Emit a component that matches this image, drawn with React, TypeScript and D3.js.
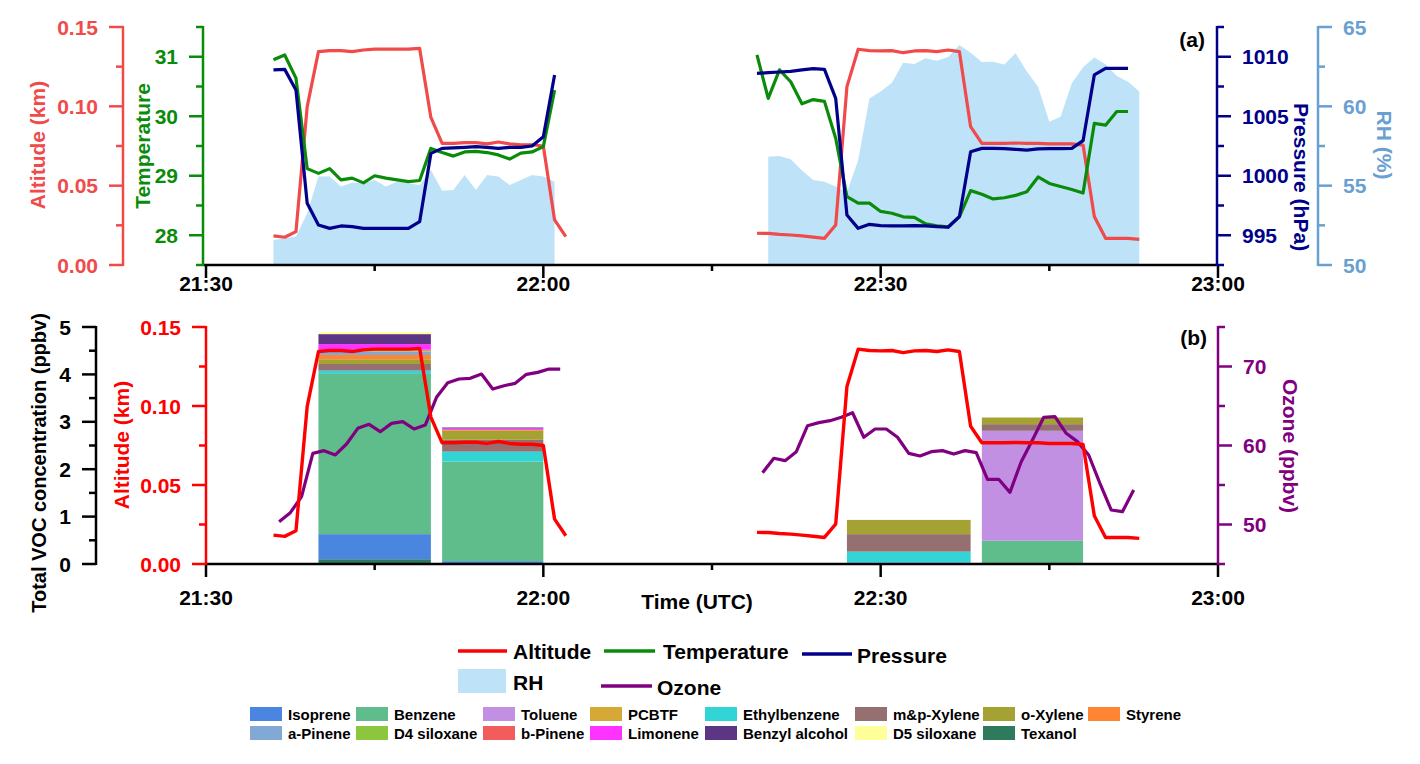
import React from "react";
import * as d3 from "d3";

// ---- flight 1 met data (1 min samples) ----
const flight1Times = ["21:36", "21:37", "21:38", "21:39", "21:40", "21:41", "21:42", "21:43", "21:44", "21:45", "21:46", "21:47", "21:48", "21:49", "21:50", "21:51", "21:52", "21:53", "21:54", "21:55", "21:56", "21:57", "21:58", "21:59", "22:00", "22:01", "22:02"];
const altitude1 = [0.0183, 0.0175, 0.021, 0.0998, 0.1345, 0.1351, 0.1351, 0.1345, 0.1355, 0.136, 0.136, 0.136, 0.136, 0.1365, 0.093, 0.0767, 0.0767, 0.0771, 0.0771, 0.0763, 0.0775, 0.0763, 0.0758, 0.0758, 0.075, 0.0284, 0.0179];
const temperature1 = [30.95, 31.03, 30.64, 29.12, 29.04, 29.12, 28.93, 28.96, 28.88, 29.0, 28.96, 28.93, 28.9, 28.92, 29.46, 29.39, 29.33, 29.4, 29.41, 29.39, 29.35, 29.28, 29.38, 29.4, 29.49, 30.44, null];
const pressure1 = [1008.89, 1008.94, 1007.21, 997.68, 995.86, 995.58, 995.78, 995.72, 995.58, 995.58, 995.58, 995.58, 995.58, 996.14, 1001.88, 1002.3, 1002.35, 1002.39, 1002.44, 1002.39, 1002.3, 1002.39, 1002.39, 1002.5, 1003.28, 1008.47, null];
const rh1 = [51.58, 51.68, 51.79, 53.26, 55.57, 55.57, 54.94, 55.19, 55.15, 55.36, 54.94, 55.25, 55.15, 55.04, 55.99, 54.68, 54.73, 55.67, 54.73, 55.67, 55.57, 55.04, 55.36, 55.67, 55.57, 55.25, null];

// ---- flight 2 met data ----
const flight2Times = ["22:19", "22:20", "22:21", "22:22", "22:23", "22:24", "22:25", "22:26", "22:27", "22:28", "22:29", "22:30", "22:31", "22:32", "22:33", "22:34", "22:35", "22:36", "22:37", "22:38", "22:39", "22:40", "22:41", "22:42", "22:43", "22:44", "22:45", "22:46", "22:47", "22:48", "22:49", "22:50", "22:51", "22:52", "22:53"];
const altitude2 = [0.02, 0.0199, 0.0193, 0.0189, 0.0183, 0.0176, 0.0168, 0.0252, 0.1124, 0.136, 0.1351, 0.1349, 0.1351, 0.1338, 0.1349, 0.1351, 0.1345, 0.1355, 0.1345, 0.0872, 0.0767, 0.0767, 0.0767, 0.0769, 0.0767, 0.0767, 0.0763, 0.0763, 0.0763, 0.0756, 0.0305, 0.0168, 0.0168, 0.0168, 0.0162];
const temperature2 = [31.03, 30.3, 30.78, 30.58, 30.21, 30.28, 30.25, 29.63, 28.65, 28.54, 28.54, 28.4, 28.37, 28.31, 28.3, 28.19, 28.16, 28.14, 28.31, 28.75, 28.69, 28.61, 28.63, 28.67, 28.73, 28.98, 28.87, 28.82, 28.77, 28.71, 29.88, 29.85, 30.08, 30.08, null];
const pressure2 = [1008.61, 1008.66, 1008.72, 1008.77, 1008.89, 1009.0, 1008.94, 1006.5, 996.7, 995.58, 995.92, 995.81, 995.78, 995.78, 995.81, 995.78, 995.72, 995.67, 996.56, 1002.02, 1002.3, 1002.3, 1002.28, 1002.22, 1002.16, 1002.26, 1002.28, 1002.28, 1002.3, 1002.95, 1008.47, 1009.03, 1009.03, 1009.03, null];
const rh2 = [null, 56.83, 56.87, 56.66, 55.95, 55.36, 55.25, 54.94, 54.56, 56.62, 60.5, 60.93, 61.49, 62.75, 62.67, 63.03, 62.88, 63.11, 63.87, 63.38, 62.79, 62.81, 62.63, 63.34, 62.19, 61.24, 59.03, 59.35, 61.45, 62.46, 63.07, 62.65, 61.91, 61.55, 60.93];

// ---- ozone ----
const ozone1Times = ["21:36:30", "21:37:30", "21:38:30", "21:39:30", "21:40:30", "21:41:30", "21:42:30", "21:43:30", "21:44:30", "21:45:30", "21:46:30", "21:47:30", "21:48:30", "21:49:30", "21:50:30", "21:51:30", "21:52:30", "21:53:30", "21:54:30", "21:55:30", "21:56:30", "21:57:30", "21:58:30", "21:59:30", "22:00:30", "22:01:30"];
const ozone1 = [50.36, 51.5, 53.52, 59.0, 59.35, 58.8, 60.19, 62.17, 62.68, 61.75, 62.8, 63.02, 62.09, 62.59, 66.1, 67.95, 68.42, 68.5, 69.05, 67.15, 67.57, 67.87, 69.01, 69.26, 69.68, 69.68];
const ozone2Times = ["22:19:30", "22:20:30", "22:21:30", "22:22:30", "22:23:30", "22:24:30", "22:25:30", "22:26:30", "22:27:30", "22:28:30", "22:29:30", "22:30:30", "22:31:30", "22:32:30", "22:33:30", "22:34:30", "22:35:30", "22:36:30", "22:37:30", "22:38:30", "22:39:30", "22:40:30", "22:41:30", "22:42:30", "22:43:30", "22:44:30", "22:45:30", "22:46:30", "22:47:30", "22:48:30", "22:49:30", "22:50:30", "22:51:30", "22:52:30"];
const ozone2 = [56.56, 58.38, 58.08, 59.22, 62.51, 62.89, 63.14, 63.57, 64.15, 61.04, 62.09, 62.09, 61.04, 59.01, 58.67, 59.22, 59.35, 58.92, 59.35, 59.09, 55.72, 55.72, 54.07, 57.95, 60.7, 63.57, 63.65, 61.54, 60.49, 58.8, 55.21, 51.84, 51.62, 54.37];

// ---- VOC canister samples (ppbv) ----
const vocStart = ["21:40", "21:51", "22:27", "22:39"];
const vocEnd = ["21:50", "22:00", "22:38", "22:48"];
const texanol = [0.1, 0, 0, 0];
const isoprene = [0.53, 0.06, 0.03, 0];
const benzene = [3.38, 2.1, 0, 0.49];
const toluene = [0, 0, 0, 2.32];
const pcbtf = [0, 0, 0, 0];
const ethylbenzene = [0.07, 0.21, 0.23, 0];
const mpXylene = [0.14, 0.25, 0.37, 0.14];
const oXylene = [0.1, 0.19, 0.3, 0.14];
const styrene = [0.09, 0.02, 0, 0];
const aPinene = [0.07, 0, 0, 0];
const d4Siloxane = [0.02, 0, 0, 0];
const bPinene = [0.02, 0, 0, 0];
const limonene = [0.12, 0.03, 0, 0];
const benzylAlcohol = [0.21, 0.02, 0, 0];
const d5Siloxane = [0.04, 0, 0, 0];

// legend order (rows of 8)
const vocNames = ["Isoprene", "Benzene", "Toluene", "PCBTF", "Ethylbenzene", "m&p-Xylene", "o-Xylene", "Styrene", "a-Pinene", "D4 siloxane", "b-Pinene", "Limonene", "Benzyl alcohol", "D5 siloxane", "Texanol"];
const vocValues = [isoprene, benzene, toluene, pcbtf, ethylbenzene, mpXylene, oXylene, styrene, aPinene, d4Siloxane, bPinene, limonene, benzylAlcohol, d5Siloxane, texanol];
const vocColors = ["#4a86e0", "#5ebd8a", "#c190e3", "#d6a835", "#33d4d6", "#967070", "#a3a233", "#ff8533", "#82a8d6", "#8cc63f", "#f25c5c", "#ff33ff", "#5c3585", "#ffff99", "#2e7a5c"];
// stacking order bottom -> top
const stackOrder = ["Texanol", "Isoprene", "Benzene", "Toluene", "PCBTF", "Ethylbenzene", "m&p-Xylene", "o-Xylene", "Styrene", "a-Pinene", "D4 siloxane", "b-Pinene", "Limonene", "Benzyl alcohol", "D5 siloxane"];

// ticks
const timeMajor = ["21:30", "22:00", "22:30", "23:00"];
const timeMinor = ["21:45", "22:15", "22:45"];
const altMajor = [0, 0.05, 0.1, 0.15];
const altMinor = [0.025, 0.075, 0.125];
const tempMajor = [28, 29, 30, 31];
const tempMinor = [27.5, 28.5, 29.5, 30.5, 31.5];
const presMajor = [995, 1000, 1005, 1010];
const presMinor = [992.5, 997.5, 1002.5, 1007.5, 1012.5];
const rhMajor = [50, 55, 60, 65];
const rhMinor = [52.5, 57.5, 62.5];
const vocMajor = [0, 1, 2, 3, 4, 5];
const vocMinor = [0.5, 1.5, 2.5, 3.5, 4.5];
const ozMajor = [50, 60, 70];
const ozMinor = [45, 55, 65, 75];

const altTopColor = "#f04a4a";
const altBotColor = "#ff0000";
const tempColor = "#0a8c0a";
const presColor = "#00008b";
const rhFill = "#bee3f8";
const rhColor = "#6a9fd2";
const ozColor = "#800080";
const FONT = "'Liberation Sans', Arial, sans-serif";
const FS = 21;

const parseMin = d3.timeParse("%H:%M");
const parseSec = d3.timeParse("%H:%M:%S");
const t = (s: string) => (s.length > 5 ? parseSec(s) : parseMin(s)) as Date;

const x = d3.scaleTime().domain([t("21:30"), t("23:00")]).range([206, 1218]);
const yAltTop = d3.scaleLinear().domain([0, 0.15]).range([265, 27]);
const yTemp = d3.scaleLinear().domain([27.5, 31.5]).range([265, 27]);
const yPres = d3.scaleLinear().domain([992.5, 1012.5]).range([265, 27]);
const yRH = d3.scaleLinear().domain([50, 65]).range([265, 27]);
const yVOC = d3.scaleLinear().domain([0, 5]).range([564, 327]);
const yAltBot = d3.scaleLinear().domain([0, 0.15]).range([564, 327]);
const yOz = d3.scaleLinear().domain([45, 75]).range([564, 327]);

function linePath(times: string[], vals: (number | null)[], y: any) {
  const pts = times.map((s, i) => [x(t(s)), vals[i]] as [number, number | null]);
  return d3.line<[number, number | null]>()
    .defined((d) => d[1] != null)
    .x((d) => d[0])
    .y((d) => y(d[1]))(pts) as string;
}

function areaPath(times: string[], vals: (number | null)[], y: any) {
  const pts = times.map((s, i) => [x(t(s)), vals[i]] as [number, number | null]);
  return d3.area<[number, number | null]>()
    .defined((d) => d[1] != null)
    .x((d) => d[0])
    .y0(y.range()[0])
    .y1((d) => y(d[1]))(pts) as string;
}

function YAxis({ x0, scale, major, minor, side, color, fmt }: any) {
  const dir = side === "left" ? -1 : 1;
  const [b, tp] = scale.range();
  return (
    <g stroke={color} strokeWidth={2.5}>
      <line x1={x0} x2={x0} y1={b + 1} y2={tp - 1} />
      {minor.map((v: number) => (
        <line key={"n" + v} x1={x0} x2={x0 + dir * 7} y1={scale(v)} y2={scale(v)} />
      ))}
      {major.map((v: number) => (
        <line key={"j" + v} x1={x0} x2={x0 + dir * 14} y1={scale(v)} y2={scale(v)} />
      ))}
      {major.map((v: number) => (
        <text key={"t" + v} x={x0 + dir * 25} y={scale(v)} dy="0.36em" stroke="none" fill={color}
          textAnchor={side === "left" ? "end" : "start"} fontSize={FS} fontWeight="bold">
          {fmt(v)}
        </text>
      ))}
    </g>
  );
}

function XAxis({ y0, x0, labelY }: any) {
  return (
    <g stroke="#000" strokeWidth={2.5}>
      <line x1={x0} x2={x.range()[1]} y1={y0} y2={y0} />
      {timeMajor.map((s) => (
        <line key={s} x1={x(t(s))} x2={x(t(s))} y1={y0} y2={y0 + 13} />
      ))}
      {timeMinor.map((s) => (
        <line key={s} x1={x(t(s))} x2={x(t(s))} y1={y0} y2={y0 + 6} />
      ))}
      {timeMajor.map((s) => (
        <text key={"l" + s} x={x(t(s))} y={labelY} stroke="none" fill="#000" textAnchor="middle"
          fontSize={FS} fontWeight="bold">{s}</text>
      ))}
    </g>
  );
}

function VLabel({ cx, cy, rot, color, size, children }: any) {
  return (
    <text transform={`translate(${cx},${cy}) rotate(${rot})`} textAnchor="middle" dominantBaseline="central"
      fill={color} fontSize={size || FS} fontWeight="bold">{children}</text>
  );
}

export default function App() {
  const rows = vocStart.map((s, i) => {
    const r: any = { start: s, end: vocEnd[i] };
    vocNames.forEach((n, k) => (r[n] = vocValues[k][i]));
    return r;
  });
  const stacked = d3.stack<any>().keys(stackOrder)(rows);
  const colorOf = (n: string) => vocColors[vocNames.indexOf(n)];

  const legendCols = [250, 356, 483, 590, 705, 855, 983, 1088];
  const legendRows = [714, 733];

  return (
    <svg width={1420} height={764} style={{ position: "absolute", left: 0, top: 0, background: "#fff" }}
      fontFamily={FONT}>
      {/* ===== panel (a) ===== */}
      <path d={areaPath(flight1Times, rh1, yRH)} fill={rhFill} />
      <path d={areaPath(flight2Times, rh2, yRH)} fill={rhFill} />
      {[[flight1Times, altitude1], [flight2Times, altitude2]].map(([tm, v], i) => (
        <path key={"a" + i} d={linePath(tm as string[], v as number[], yAltTop)} fill="none" stroke={altTopColor} strokeWidth={3.2} strokeLinejoin="round" />
      ))}
      {[[flight1Times, temperature1], [flight2Times, temperature2]].map(([tm, v], i) => (
        <path key={"t" + i} d={linePath(tm as string[], v as number[], yTemp)} fill="none" stroke={tempColor} strokeWidth={3.2} strokeLinejoin="round" />
      ))}
      {[[flight1Times, pressure1], [flight2Times, pressure2]].map(([tm, v], i) => (
        <path key={"p" + i} d={linePath(tm as string[], v as number[], yPres)} fill="none" stroke={presColor} strokeWidth={3.2} strokeLinejoin="round" />
      ))}

      <XAxis y0={265} x0={203} labelY={291} />
      <YAxis x0={123} scale={yAltTop} major={altMajor} minor={altMinor} side="left" color={altTopColor} fmt={d3.format(".2f")} />
      <YAxis x0={203} scale={yTemp} major={tempMajor} minor={tempMinor} side="left" color={tempColor} fmt={d3.format("d")} />
      <YAxis x0={1217} scale={yPres} major={presMajor} minor={presMinor} side="right" color={presColor} fmt={d3.format("d")} />
      <YAxis x0={1318} scale={yRH} major={rhMajor} minor={rhMinor} side="right" color={rhColor} fmt={d3.format("d")} />
      <VLabel cx={37} cy={145} rot={-90} color={altTopColor}>Altitude (km)</VLabel>
      <VLabel cx={142} cy={146} rot={-90} color={tempColor}>Temperature</VLabel>
      <VLabel cx={1301} cy={177} rot={90} color={presColor}>Pressure (hPa)</VLabel>
      <VLabel cx={1384} cy={145} rot={90} color={rhColor}>RH (%)</VLabel>
      <text x={1205} y={47} textAnchor="end" fontSize={FS} fontWeight="bold">(a)</text>

      {/* ===== panel (b) ===== */}
      {stacked.map((layer) => (
        <g key={layer.key} fill={colorOf(layer.key)}>
          {layer.map((d: any, i: number) =>
            d[1] - d[0] > 0 ? (
              <rect key={i} x={x(t(d.data.start))} width={x(t(d.data.end)) - x(t(d.data.start))}
                y={yVOC(d[1])} height={yVOC(d[0]) - yVOC(d[1])} />
            ) : null
          )}
        </g>
      ))}
      <path d={linePath(ozone1Times, ozone1, yOz)} fill="none" stroke={ozColor} strokeWidth={3.2} strokeLinejoin="round" />
      <path d={linePath(ozone2Times, ozone2, yOz)} fill="none" stroke={ozColor} strokeWidth={3.2} strokeLinejoin="round" />
      <path d={linePath(flight1Times, altitude1, yAltBot)} fill="none" stroke={altBotColor} strokeWidth={3.4} strokeLinejoin="round" />
      <path d={linePath(flight2Times, altitude2, yAltBot)} fill="none" stroke={altBotColor} strokeWidth={3.4} strokeLinejoin="round" />

      <XAxis y0={564} x0={206} labelY={605} />
      <YAxis x0={96} scale={yVOC} major={vocMajor} minor={vocMinor} side="left" color="#000" fmt={d3.format("d")} />
      <YAxis x0={206} scale={yAltBot} major={altMajor} minor={altMinor} side="left" color={altBotColor} fmt={d3.format(".2f")} />
      <YAxis x0={1218} scale={yOz} major={ozMajor} minor={ozMinor} side="right" color={ozColor} fmt={d3.format("d")} />
      <VLabel cx={39} cy={463} rot={-90} color="#000" size={20}>Total VOC concentration (ppbv)</VLabel>
      <VLabel cx={121} cy={445} rot={-90} color={altBotColor}>Altitude (km)</VLabel>
      <VLabel cx={1290} cy={446} rot={90} color={ozColor}>Ozone (ppbv)</VLabel>
      <text x={1207} y={345} textAnchor="end" fontSize={FS} fontWeight="bold">(b)</text>
      <text x={697} y={609} textAnchor="middle" fontSize={FS} fontWeight="bold">Time (UTC)</text>

      {/* ===== line legend ===== */}
      <g fontSize={FS} fontWeight="bold" fill="#000">
        <line x1={458} x2={507} y1={651} y2={651} stroke={altBotColor} strokeWidth={3.5} />
        <text x={513} y={651} dominantBaseline="central">Altitude</text>
        <line x1={604} x2={655} y1={651} y2={651} stroke={tempColor} strokeWidth={3.5} />
        <text x={663} y={651} dominantBaseline="central">Temperature</text>
        <line x1={802} x2={852} y1={654} y2={654} stroke={presColor} strokeWidth={3.5} />
        <text x={857} y={655} dominantBaseline="central">Pressure</text>
        <rect x={458} y={669} width={48} height={24} fill={rhFill} />
        <text x={513} y={682} dominantBaseline="central">RH</text>
        <line x1={601} x2={652} y1={686} y2={686} stroke={ozColor} strokeWidth={3.5} />
        <text x={657} y={687} dominantBaseline="central">Ozone</text>
      </g>

      {/* ===== VOC legend ===== */}
      <g fontSize={15} fontWeight="bold" fill="#000">
        {vocNames.map((n, k) => {
          const cx = legendCols[k % 8];
          const cy = legendRows[Math.floor(k / 8)];
          return (
            <g key={n}>
              <rect x={cx} y={cy - 7} width={32} height={14} fill={vocColors[k]} />
              <text x={cx + 38} y={cy} dominantBaseline="central">{n}</text>
            </g>
          );
        })}
      </g>
    </svg>
  );
}
